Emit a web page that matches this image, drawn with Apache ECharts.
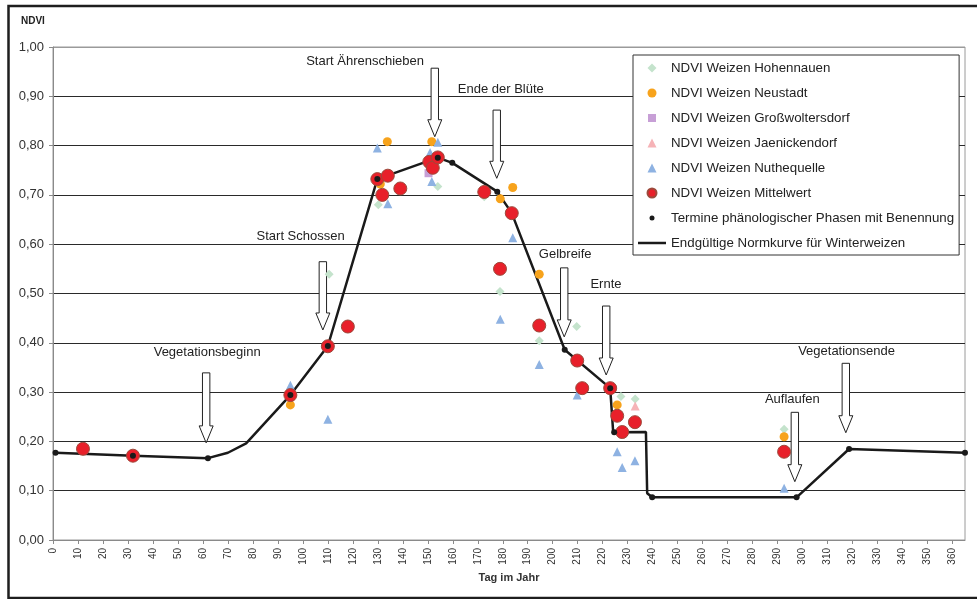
<!DOCTYPE html>
<html><head><meta charset="utf-8">
<script src="https://cdn.jsdelivr.net/npm/echarts@6/dist/echarts.min.js"></script>
<style>html,body{margin:0;padding:0;background:#fff}#c{width:977px;height:599px}</style>
</head><body><div id="c"></div>
<script>
const FONT = 'Liberation Sans, Arial, sans-serif';
const xTickLabels = [0,10,20,30,40,50,60,70,80,90,100,110,120,130,140,150,160,170,180,190,200,210,220,230,240,250,260,270,280,290,300,310,320,330,340,350,360];
const yTickLabels = ['0,00','0,10','0,20','0,30','0,40','0,50','0,60','0,70','0,80','0,90','1,00'];

const hohDays = [110.5, 130.2, 154, 172.6, 178.9, 194.6, 209.6, 227.3, 233, 292.6];
const hohVals = [0.539, 0.680, 0.717, 0.696, 0.504, 0.404, 0.433, 0.291, 0.286, 0.2245];

const neuDays = [95, 131, 133.8, 151.6, 179, 184, 194.6, 225.8, 292.6];
const neuVals = [0.274, 0.722, 0.808, 0.808, 0.692, 0.715, 0.539, 0.274, 0.2095];

const grossDays = [150.3];
const grossVals = [0.744];

const jaeDays = [233];
const jaeVals = [0.272];

const nutDays = [95, 110, 129.8, 134, 150.9, 151.6, 154, 184, 179, 194.6, 209.8, 225.8, 227.8, 232.9, 292.6];
const nutVals = [0.314, 0.245, 0.795, 0.682, 0.786, 0.727, 0.807, 0.613, 0.448, 0.356, 0.294, 0.179, 0.147, 0.161, 0.105];

const mitDays = [12, 32, 95, 110, 118, 129.8, 131.8, 134, 139, 150.6, 152, 154, 172.6, 178.9, 183.6, 194.6, 209.8, 211.8, 223, 225.8, 227.8, 232.9, 292.6];
const mitVals = [0.185, 0.171, 0.294, 0.393, 0.433, 0.732, 0.700, 0.739, 0.713, 0.767, 0.755, 0.776, 0.706, 0.550, 0.663, 0.435, 0.364, 0.308, 0.308, 0.252, 0.219, 0.239, 0.179];

const phaseDays = [1, 32, 62, 95, 110, 129.8, 154, 159.8, 177.8, 204.8, 223, 224.6, 239.8, 297.6, 318.6, 365];
const phaseVals = [0.177, 0.171, 0.166, 0.294, 0.3935, 0.732, 0.7755, 0.765, 0.7066, 0.386, 0.308, 0.2184, 0.0866, 0.0866, 0.1846, 0.177];

const normDays = [1, 32, 62, 70, 77.3, 95, 110, 129.8, 154, 159.8, 177.8, 183.6, 204.8, 223, 224.2, 237.3, 237.8, 239.8, 297.6, 318.6, 365];
const normVals = [0.177, 0.171, 0.166, 0.177, 0.196, 0.294, 0.3935, 0.732, 0.7755, 0.765, 0.7066, 0.663, 0.386, 0.308, 0.2184, 0.219, 0.095, 0.0866, 0.0866, 0.1846, 0.177];

const annTexts = ['Vegetationsbeginn', 'Start Schossen', 'Start Ährenschieben', 'Ende der Blüte', 'Gelbreife', 'Ernte', 'Auflaufen', 'Vegetationsende'];
const annTextDays = [61.7, 99.1, 124.9, 179.2, 205, 221.3, 295.9, 317.6];
const annTextVals = [0.381, 0.615, 0.970, 0.914, 0.5795, 0.5187, 0.286, 0.382];
const arrowDays = [61.3, 108, 152.8, 177.6, 204.6, 221.4, 296.9, 317.3];
const arrowTops = [0.339, 0.5645, 0.957, 0.872, 0.552, 0.4746, 0.259, 0.3584];
const arrowTips = [0.197, 0.426, 0.818, 0.7337, 0.412, 0.3347, 0.1183, 0.2176];

const NAMES = ['NDVI Weizen Hohennauen','NDVI Weizen Neustadt','NDVI Weizen Großwoltersdorf','NDVI Weizen Jaenickendorf','NDVI Weizen Nuthequelle','NDVI Weizen Mittelwert','Termine phänologischer Phasen mit Benennung','Endgültige Normkurve für Winterweizen'];

const pairs = (d, v) => d.map((x, i) => [x, v[i]]);

const chart = echarts.init(document.getElementById('c'), null, {renderer: 'canvas'});
chart.setOption({
  animation: false,
  backgroundColor: '#fff',
  textStyle: {fontFamily: FONT},
  grid: {left: 53, right: 12, top: 47, bottom: 59, show: true, borderColor: '#9a9a9a', borderWidth: 1, backgroundColor: 'transparent'},
  graphic: [
    {type: 'rect', z: 100, silent: true, shape: {x: 8.5, y: 6, width: 1000, height: 592}, style: {fill: 'none', stroke: '#1e1e1e', lineWidth: 2.5}},
    {type: 'text', z: 100, left: 21, top: 16, style: {text: 'NDVI', font: 'bold 10px ' + FONT, fill: '#222'}}
  ],
  xAxis: {
    type: 'value', min: 0, max: 365, interval: 10,
    name: 'Tag im Jahr', nameLocation: 'middle', nameGap: 31,
    nameTextStyle: {fontSize: 11, fontWeight: 'bold', color: '#333', fontFamily: FONT},
    axisLine: {show: true, lineStyle: {color: '#8a8a8a', width: 1}},
    axisTick: {show: true, length: 4, lineStyle: {color: '#8a8a8a'}, customValues: xTickLabels},
    axisLabel: {rotate: 90, fontSize: 10, color: '#333', margin: 8, customValues: xTickLabels, formatter: v => String(v)},
    splitLine: {show: false}
  },
  yAxis: {
    type: 'value', min: 0, max: 1, interval: 0.1,
    axisLine: {show: true, lineStyle: {color: '#8a8a8a', width: 1}},
    axisTick: {show: true, length: 4, lineStyle: {color: '#8a8a8a'}},
    axisLabel: {fontSize: 13, color: '#333', margin: 9, formatter: v => yTickLabels[Math.round(v * 10)]},
    splitLine: {show: true, lineStyle: {color: ['#2a2a2a','#2a2a2a','#2a2a2a','#2a2a2a','#2a2a2a','#2a2a2a','#2a2a2a','#2a2a2a','#2a2a2a','#2a2a2a','#9a9a9a'], width: 1}}
  },
  legend: {
    orient: 'vertical', left: 633, top: 55, padding: [6, 5, 5, 5],
    itemWidth: 28, itemHeight: 9, itemGap: 11,
    backgroundColor: '#fff', borderColor: '#333', borderWidth: 1, borderRadius: 0,
    selectedMode: false,
    textStyle: {fontSize: 13.3, color: '#222', fontFamily: FONT, lineHeight: 14},
    data: [
      {name: NAMES[0], icon: 'path://M4.5,0L9,4.5L4.5,9L0,4.5Z'},
      {name: NAMES[1]},
      {name: NAMES[2], icon: 'path://M0,0M9,9M0.5,0.5L8.5,0.5L8.5,8.5L0.5,8.5Z'},
      {name: NAMES[3], icon: 'path://M4.5,0L9,9L0,9Z'},
      {name: NAMES[4], icon: 'path://M4.5,0L9,9L0,9Z'},
      {name: NAMES[5]},
      {name: NAMES[6], icon: 'path://M0,0M9,9M2,4.5a2.5,2.5 0 1,0 5,0a2.5,2.5 0 1,0 -5,0z'},
      {name: NAMES[7], icon: 'path://M0,0L28,0L28,2.5L0,2.5Z'}
    ]
  },
  series: [
    {
      type: 'custom', name: 'annotations', z: 1, silent: true,
      data: arrowDays.map((d, i) => [d, arrowTops[i], arrowTips[i], annTextDays[i], annTextVals[i], i]),
      encode: {x: [0, 3], y: [1, 2, 4]},
      renderItem: function (params, api) {
        const i = api.value(5);
        const top = api.coord([api.value(0), api.value(1)]);
        const tip = api.coord([api.value(0), api.value(2)]);
        const lab = api.coord([api.value(3), api.value(4)]);
        const x = top[0], y0 = top[1], y1 = tip[1];
        const sw = 3.7, hw = 7, hl = 17;
        return {type: 'group', children: [
          {type: 'polygon', shape: {points: [[x - sw, y0], [x + sw, y0], [x + sw, y1 - hl], [x + hw, y1 - hl], [x, y1], [x - hw, y1 - hl], [x - sw, y1 - hl]]},
           style: {fill: '#fff', stroke: '#222', lineWidth: 1}},
          {type: 'text', x: lab[0], y: lab[1], style: {text: annTexts[i], fill: '#222', fontSize: 13, fontFamily: FONT, align: 'center', verticalAlign: 'middle'}}
        ]};
      }
    },
    {
      type: 'line', name: NAMES[7], z: 2, data: pairs(normDays, normVals), symbol: 'none',
      itemStyle: {color: '#1a1a1a'}, lineStyle: {color: '#1a1a1a', width: 2.5}
    },
    {type: 'scatter', name: NAMES[0], z: 3, data: pairs(hohDays, hohVals), symbol: 'diamond', symbolSize: 9, itemStyle: {color: '#c4e3cc', opacity: 1}},
    {type: 'scatter', name: NAMES[1], z: 3, data: pairs(neuDays, neuVals), symbol: 'circle', symbolSize: 9, itemStyle: {color: '#f7a31c', opacity: 1}},
    {type: 'scatter', name: NAMES[2], z: 3, data: pairs(grossDays, grossVals), symbol: 'rect', symbolSize: 8, itemStyle: {color: '#c79fd6', opacity: 1}},
    {type: 'scatter', name: NAMES[3], z: 3, data: pairs(jaeDays, jaeVals), symbol: 'triangle', symbolSize: 9, itemStyle: {color: '#f6b3b7', opacity: 1}},
    {type: 'scatter', name: NAMES[4], z: 3, data: pairs(nutDays, nutVals), symbol: 'triangle', symbolSize: 9, itemStyle: {color: '#8eb2e2', opacity: 1}},
    {type: 'scatter', name: NAMES[5], z: 3, data: pairs(mitDays, mitVals), symbol: 'circle', symbolSize: 13, itemStyle: {color: '#e8202a', borderColor: '#9c4a3c', borderWidth: 1, opacity: 1}},
    {type: 'scatter', name: NAMES[6], z: 4, data: pairs(phaseDays, phaseVals), symbol: 'circle', symbolSize: 6, itemStyle: {color: '#1a1a1a', opacity: 1}}
  ]
});
</script>
</body></html>
